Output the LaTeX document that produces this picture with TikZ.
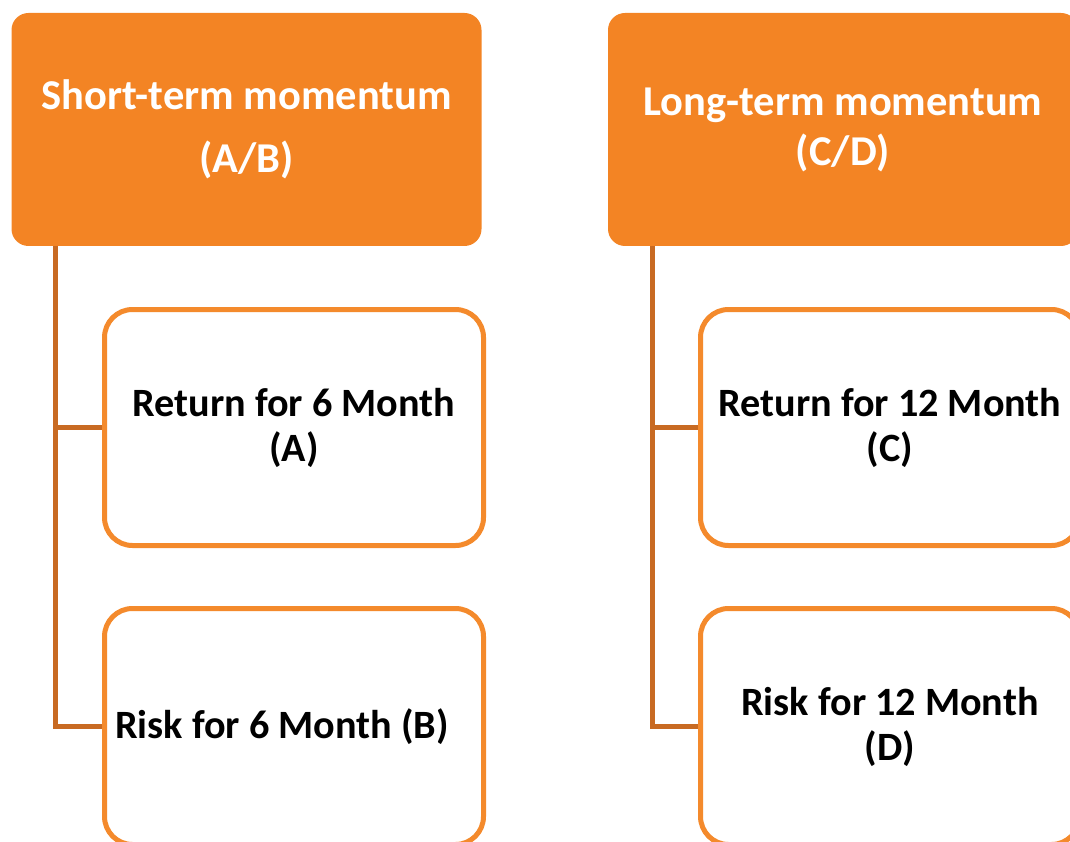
\documentclass[tikz,border=0pt]{standalone}
\usepackage{fontspec}
\setmainfont{Carlito}
\definecolor{hdrorange}{HTML}{F38424}
\definecolor{boxorange}{HTML}{F48A2C}
\definecolor{connorange}{HTML}{C86A22}
\begin{document}
\begin{tikzpicture}[x=1pt,y=-1pt,
 hdr/.style={rectangle, rounded corners=17pt, fill=hdrorange, draw=none, text=white,
   align=center, minimum width=470pt, minimum height=233pt, inner sep=0pt},
 child/.style={rectangle, rounded corners=28pt, draw=boxorange, line width=5pt, fill=white,
   font=\bfseries\fontsize{40.2}{45}\selectfont, align=center,
   minimum width=379pt, minimum height=236pt, inner sep=0pt},
 conn/.style={draw=connorange, line width=5pt}]
\useasboundingbox (0,0) rectangle (1070,842);
\clip (0,0) rectangle (1070,842);
% headers
\node[hdr, font=\bfseries\fontsize{42.5}{63}\selectfont] (hA) at (246.5,129.5) {Short-term momentum\\(A/B)};
\node[hdr, font=\bfseries\fontsize{42.5}{50}\selectfont] (hC) at (843,129.5) {Long-term momentum\\(C/D)};
% trunk coordinates
\coordinate (tA) at (55,246);
\coordinate (tC) at (652,246);
% children
\node[child] (cA) at (294,427.5) {Return for 6 Month\\(A)};
\node[child] (cB) at (294,726.5) {Risk for 6 Month (B)\hspace*{24pt}};
\node[child] (cC) at (890,427.5) {Return for 12 Month\\(C)};
\node[child] (cD) at (890,726.5) {Risk for 12 Month\\(D)};
% connectors
\draw[conn] (tA) |- (cA.west);
\draw[conn] (tA) |- (cB.west);
\draw[conn] (tC) |- (cC.west);
\draw[conn] (tC) |- (cD.west);
\end{tikzpicture}
\end{document}
